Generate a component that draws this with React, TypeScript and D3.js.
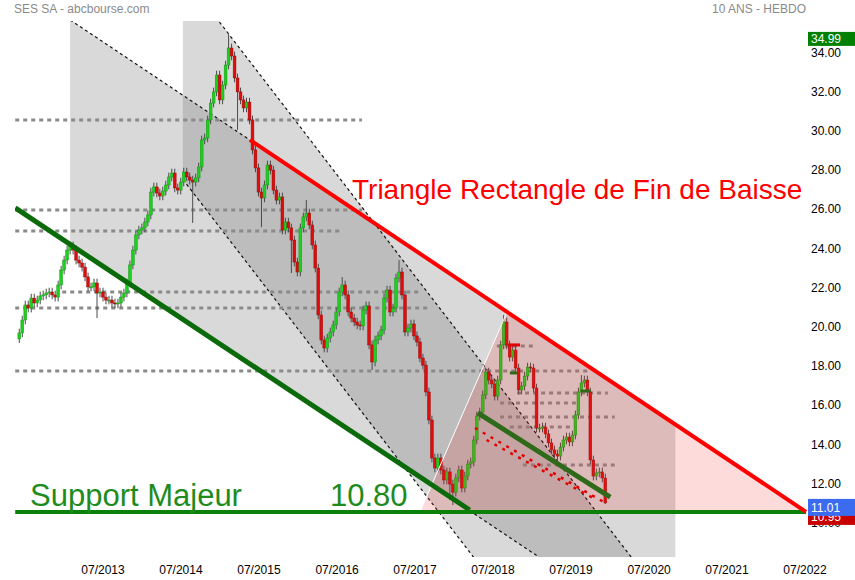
import React from "react";
import * as d3 from "d3";

// ---------- DATA ----------
const candleStart = "2012-06-04";
const candleStepDays = 14;
const closes = [
  19.68, 20.34, 21.11, 20.95, 21.46, 21.21, 21.36, 21.57, 21.62, 21.72,
  21.77, 21.62, 21.51, 22.13, 22.89, 23.40, 23.91, 24.12, 23.91, 23.40,
  23.25, 23.04, 22.54, 22.03, 22.03, 22.23, 21.72, 21.77, 21.51, 21.36,
  21.36, 21.21, 21.16, 21.21, 21.51, 21.72, 22.23, 23.15, 23.91, 24.68,
  24.93, 25.04, 25.34, 25.70, 26.87, 27.13, 26.82, 26.67, 26.92, 27.23,
  27.64, 27.84, 27.08, 26.97, 27.38, 27.89, 27.64, 27.48, 27.38, 27.59,
  28.15, 29.53, 29.63, 30.55, 31.41, 31.98, 32.84, 31.57, 32.33, 33.35,
  34.22, 33.81, 32.69, 31.98, 31.57, 31.16, 31.46, 30.55, 29.02, 28.10,
  26.87, 26.57, 27.23, 28.25, 27.99, 26.97, 26.46, 26.62, 24.93, 25.34,
  25.04, 24.42, 23.30, 22.79, 25.04, 25.60, 25.80, 25.19, 24.17, 22.99,
  20.60, 19.32, 18.91, 19.42, 19.73, 20.09, 20.75, 21.77, 22.13, 21.62,
  20.75, 20.44, 20.24, 20.09, 20.04, 20.85, 21.06, 19.07, 18.20, 19.32,
  19.53, 19.83, 21.46, 21.87, 20.75, 20.95, 22.48, 22.79, 21.62, 19.73,
  19.93, 20.14, 19.53, 19.22, 18.40, 18.04, 16.67, 15.24, 13.30, 12.79,
  13.30, 12.69, 12.18, 12.59, 11.97, 11.56, 12.28, 12.69, 11.77, 12.38,
  12.99, 13.10, 14.22, 15.44, 15.65, 16.52, 17.69, 17.28, 17.08, 16.46,
  17.28, 19.07, 20.24, 19.07, 18.45, 18.81, 17.89, 16.77, 16.97, 17.48,
  17.94, 17.89, 16.87, 14.83, 14.83, 14.88, 14.53, 14.07, 13.71, 13.50,
  13.40, 13.86, 14.22, 14.37, 14.12, 14.47, 15.50, 16.67, 17.13, 17.28,
  16.67, 13.20, 12.38, 12.54, 12.59, 12.28, 11.01,
];
// notable wick extremes: [candle index, "high" | "low", value]
const wickExtremes: [number, string, number][] = [
  [0, "low", 19.17], [26, "low", 20.44], [58, "low", 25.29], [70, "high", 34.99],
  [73, "low", 30.04], [81, "low", 25.08], [91, "low", 22.74], [96, "high", 26.46],
  [108, "high", 22.53], [118, "low", 17.79], [127, "high", 23.4], [144, "low", 11.16],
  [145, "low", 10.9], [162, "high", 20.6], [188, "high", 17.53], [196, "low", 10.95],
];
const wickPad = 0.22;

const yTickValues = [10, 12, 14, 16, 18, 20, 22, 24, 26, 28, 30, 32, 34];
const xTickYears = [2013, 2014, 2015, 2016, 2017, 2018, 2019, 2020, 2021, 2022];

// Channels: upper and lower boundary lines [date, value], with left/right date limits
const channelAUpper: [string, number][] = [["2013-01-28", 35.65], ["2020-11-01", 15.03]];
const channelALower: [string, number][] = [["2013-01-28", 24.22], ["2020-11-01", 3.6]];
const channelALimits = ["2013-01-28", "2020-11-01"];
const channelBUpper: [string, number][] = [["2014-12-21", 35.65], ["2020-04-08", 8.25]];
const channelBLower: [string, number][] = [["2014-12-21", 25.19], ["2020-04-08", -2.21]];
const channelBLimits = ["2014-07-10", "2021-06-01"];

// Trend lines
const greenTrend: [string, number][] = [["2012-05-16", 26.06], ["2018-03-14", 10.65]];
const redTrend: [string, number][] = [["2015-05-20", 29.53], ["2022-07-06", 10.55]];
const supportLine: [string, number][] = [["2012-05-16", 10.55], ["2022-07-06", 10.55]];
const triangle: [string, number][] = [["2017-07-24", 10.55], ["2018-09-05", 20.75], ["2022-07-06", 10.55]];
const smallChannelGreen: [string, number][] = [["2018-04-21", 15.6], ["2020-01-01", 11.31]];
const smallChannelRed1: [string, number][] = [["2018-04-08", 14.83], ["2019-12-17", 10.96]];
const smallChannelRed2: [string, number][] = [["2018-06-01", 14.22], ["2019-10-30", 11.16]];

// Horizontal dotted levels: [value, from, to]
const levels: [number, string, string][] = [
  [30.55, "2012-05-16", "2016-10-25"],
  [25.95, "2012-05-16", "2016-10-25"],
  [24.88, "2012-05-16", "2016-07-15"],
  [21.77, "2012-12-22", "2017-07-24"],
  [20.95, "2012-05-16", "2017-09-10"],
  [17.74, "2012-05-16", "2019-09-20"],
  [19.02, "2018-07-19", "2019-01-04"],
  [16.62, "2018-10-22", "2019-12-21"],
  [16.11, "2018-08-03", "2019-07-30"],
  [15.39, "2018-08-03", "2020-01-22"],
  [14.88, "2018-09-18", "2019-07-10"],
  [12.94, "2018-11-18", "2020-01-22"],
];
// short horizontal markers: [value, from, to, colour]
const markers: [number, string, string, string][] = [
  [19.07, "2018-09-10", "2018-11-05", "#e00000"],
  [17.64, "2018-09-18", "2018-10-25", "#2f6a1a"],
  [16.72, "2019-08-15", "2019-10-01", "#2f6a1a"],
];

const FONT = "'Liberation Sans', Arial, sans-serif";

export default function App() {
  const parse = d3.timeParse("%Y-%m-%d");
  const x = d3.scaleTime().domain([parse("2013-07-01")!, parse("2022-07-01")!]).range([103, 805]);
  const y = d3.scaleLinear().domain([10, 34]).range([522.7, 52.3]);
  const px = (d: string) => x(parse(d)!);
  const pt = (p: [string, number]) => [px(p[0]), y(p[1])] as [number, number];

  const lineAt = (pts: [string, number][]) => {
    const [x1, y1] = pt(pts[0]);
    const [x2, y2] = pt(pts[1]);
    return (xx: number) => y1 + ((y2 - y1) * (xx - x1)) / (x2 - x1);
  };

  const channelPoly = (up: [string, number][], lo: [string, number][], lim: string[]) => {
    const U = lineAt(up), L = lineAt(lo);
    const xl = px(lim[0]), xr = px(lim[1]);
    return {
      poly: [[xl, U(xl)], [xr, U(xr)], [xr, L(xr)], [xl, L(xl)]] as [number, number][],
      upper: [[xl, U(xl)], [xr, U(xr)]] as [number, number][],
      lower: [[xl, L(xl)], [xr, L(xr)]] as [number, number][],
    };
  };
  const chA = channelPoly(channelAUpper, channelALower, channelALimits);
  const chB = channelPoly(channelBUpper, channelBLower, channelBLimits);
  const polyStr = (p: [number, number][]) => p.map((q) => q.join(",")).join(" ");

  const start = parse(candleStart)!;
  const candles = closes.map((c, i) => {
    const date = d3.timeDay.offset(start, i * candleStepDays);
    const o = i > 0 ? closes[i - 1] : c - 0.3;
    let hi = Math.max(o, c) + wickPad;
    let lo = Math.min(o, c) - wickPad;
    wickExtremes.forEach(([k, t, v]) => {
      if (k === i) { if (t === "high") hi = v; else lo = v; }
    });
    return { date, o, c, hi, lo };
  });

  const line = d3.line();
  const clipId = "plotclip";

  return (
    <svg width={855} height={580} style={{ position: "absolute", left: 0, top: 0, background: "#fff" }} fontFamily={FONT}>
      <defs>
        <clipPath id={clipId}>
          <rect x={15} y={21} width={793} height={536} />
        </clipPath>
      </defs>
      <rect x={0} y={0} width={855} height={580} fill="#fff" />
      <g clipPath={`url(#${clipId})`}>
        {/* channels */}
        <polygon points={polyStr(chA.poly)} fill="rgba(110,110,110,0.26)" />
        <polygon points={polyStr(chB.poly)} fill="rgba(110,110,110,0.26)" />
        {[chA.upper, chA.lower, chB.upper, chB.lower].map((l, i) => (
          <path key={"ce" + i} d={line(l)!} stroke="#111" strokeWidth={1.2} strokeDasharray="3,3" fill="none" />
        ))}
        {/* levels */}
        {levels.map(([v, a, b], i) => (
          <line key={"lv" + i} x1={px(a)} x2={px(b)} y1={y(v)} y2={y(v)} stroke="#8a8a8a" strokeWidth={3} strokeDasharray="4,4" />
        ))}
        {/* candles */}
        {candles.map((d, i) => {
          const cx = x(d.date);
          const up = d.c >= d.o;
          const top = y(Math.max(d.o, d.c));
          const bot = y(Math.min(d.o, d.c));
          return (
            <g key={"c" + i}>
              <line x1={cx} x2={cx} y1={y(d.hi)} y2={y(d.lo)} stroke="#4a4a4a" strokeWidth={1} />
              <rect x={cx - 1.4} y={top} width={2.8} height={Math.max(1, bot - top)}
                fill={up ? "#1fcf1f" : "#dd0d0d"} stroke={up ? "#129a12" : "#9a0a0a"} strokeWidth={0.5} />
            </g>
          );
        })}
        {/* pink triangle */}
        <polygon points={polyStr(triangle.map(pt))} fill="rgba(250,40,40,0.17)" stroke="#fff" strokeWidth={1} />
        {/* markers */}
        {markers.map(([v, a, b, col], i) => (
          <line key={"mk" + i} x1={px(a)} x2={px(b)} y1={y(v)} y2={y(v)} stroke={col} strokeWidth={3} />
        ))}
        {/* small channel */}
        <path d={line([pt(smallChannelRed1[0]), pt(smallChannelRed1[1])])!} stroke="#e00000" strokeWidth={2.5} strokeDasharray="3,6" fill="none" />
        <path d={line([pt(smallChannelRed2[0]), pt(smallChannelRed2[1])])!} stroke="#e00000" strokeWidth={2.5} strokeDasharray="3,6" fill="none" />
        <path d={line([pt(smallChannelGreen[0]), pt(smallChannelGreen[1])])!} stroke="#2f6a1a" strokeWidth={5} fill="none" />
        {/* trend lines */}
        <path d={line([pt(greenTrend[0]), pt(greenTrend[1])])!} stroke="#0b6b0b" strokeWidth={5} fill="none" />
        <path d={line([pt(supportLine[0]), pt(supportLine[1])])!} stroke="#0a820a" strokeWidth={4} fill="none" />
        <path d={line([pt(redTrend[0]), pt(redTrend[1])])!} stroke="#ff0000" strokeWidth={4} fill="none" />
      </g>

      {/* titles */}
      <text x={14} y={13} fontSize={12} fill="#8a8a8a">SES SA - abcbourse.com</text>
      <text x={806} y={13} fontSize={12} fill="#8a8a8a" textAnchor="end">10 ANS - HEBDO</text>

      {/* annotations */}
      <text x={352} y={199} fontSize={28} fill="#ff0000">Triangle Rectangle de Fin de Baisse</text>
      <text x={30} y={506} fontSize={31} fill="#1d8c1d">Support Majeur</text>
      <text x={330} y={506} fontSize={31} fill="#1d8c1d">10.80</text>

      {/* y axis labels */}
      {yTickValues.map((v) => (
        <text key={"yt" + v} x={811} y={y(v)} dy="0.35em" fontSize={12} fill="#000">{v.toFixed(2)}</text>
      ))}
      {/* x axis labels */}
      {xTickYears.map((yr) => (
        <text key={"xt" + yr} x={x(new Date(yr, 6, 1))} y={570} dy="0.35em" fontSize={12} fill="#000" textAnchor="middle">
          {`07/${yr}`}
        </text>
      ))}

      {/* price tags */}
      <rect x={808} y={y(34.99) - 1} width={47} height={14} fill="#008000" />
      <text x={811} y={y(34.99) + 6} dy="0.35em" fontSize={12} fill="#fff">34.99</text>
      <rect x={808} y={y(11.01) + 6} width={47} height={16} fill="#c80000" />
      <text x={811} y={y(11.01) + 13.5} dy="0.35em" fontSize={12} fill="#fff">10.95</text>
      <rect x={808} y={y(11.01) - 4} width={47} height={17} fill="#3b6cf0" />
      <text x={811} y={y(11.01) + 4.5} dy="0.35em" fontSize={12} fill="#fff">11.01</text>
    </svg>
  );
}
